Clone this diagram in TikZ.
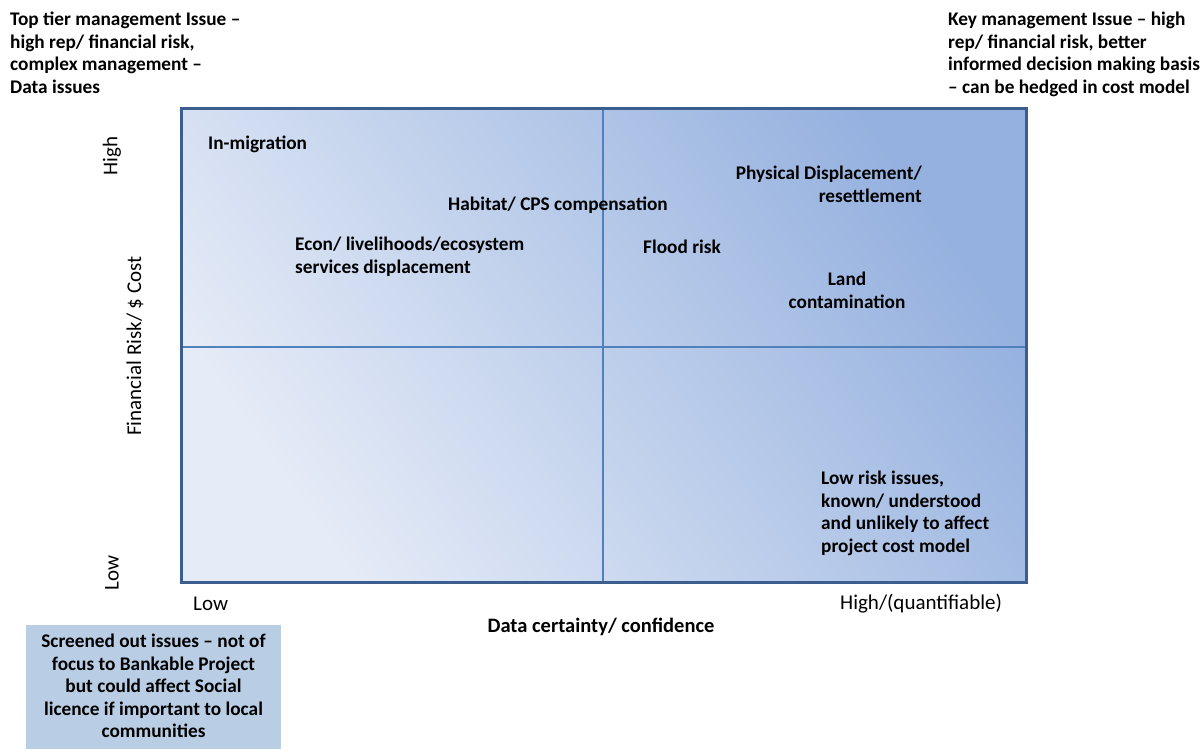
\documentclass[tikz,border=0pt]{standalone}
\usepackage{fontspec}
\setmainfont{Carlito}
\definecolor{frameblue}{HTML}{3B5E8E}
\definecolor{divblue}{HTML}{4F81BD}
\definecolor{lightfill}{HTML}{E6ECF7}
\definecolor{darkfill}{HTML}{95B1DF}
\definecolor{screenfill}{HTML}{B9CDE5}
\tikzset{
  lbl/.style={inner sep=0pt, font=\fontsize{19.3}{22.5}\selectfont\bfseries, text=black},
  axl/.style={inner sep=0pt, font=\fontsize{21}{25}\selectfont, text=black},
}
\begin{document}
\begin{tikzpicture}[x=1pt,y=-1pt]
\useasboundingbox (0,0) rectangle (1201,749);
% screened out box
\fill[screenfill] (26,625) rectangle (281,749);
\node[lbl, align=center, anchor=north] (screen) at (153.5,634) {Screened out issues -- not of\\focus to Bankable Project\\but could affect Social\\licence if important to local\\communities};
% matrix
\fill[shading=axis, bottom color=lightfill, top color=darkfill, shading angle=-55] (181,109) rectangle (1026,582);
\coordinate (vt) at (603,109);
\coordinate (vb) at (603,582);
\coordinate (hl) at (181,347);
\coordinate (hr) at (1026,347);
\draw[divblue, line width=2pt] (vt) -- (vb);
\draw[divblue, line width=2pt] (hl) -- (hr);
\draw[frameblue, line width=3pt] (181,109) rectangle (1026,582);
% corner notes
\node[lbl, align=left, anchor=north west] (tl) at (10,12) {Top tier management Issue --\\high rep/ financial risk,\\complex management --\\Data issues};
\node[lbl, align=left, anchor=north west] (tr) at (948,12) {Key management Issue -- high\\rep/ financial risk, better\\informed decision making basis\\-- can be hedged in cost model};
% items
\node[lbl, anchor=west] (mig) at (208,144) {In-migration};
\node[lbl, anchor=west] (hab) at (448,205) {Habitat/ CPS compensation};
\node[lbl, align=left, anchor=north west] (econ) at (295,237) {Econ/ livelihoods/ecosystem\\services displacement};
\node[lbl, anchor=west] (flood) at (643,247) {Flood risk};
\node[lbl, align=right, anchor=north east] (phys) at (922,166) {Physical Displacement/\\resettlement};
\node[lbl, align=center, anchor=north] (land) at (847,272) {Land\\contamination};
\node[lbl, align=left, anchor=north west] (lowrisk) at (821,471) {Low risk issues,\\known/ understood\\and unlikely to affect\\project cost model};
% axes
\node[axl, anchor=west] (xlow) at (193,604) {Low};
\node[axl, anchor=west] (xhigh) at (840,604) {High/(quantifiable)};
\node[lbl, font=\fontsize{20.5}{24}\selectfont\bfseries] (xtitle) at (601,627) {Data certainty/ confidence};
\node[axl, rotate=90] (yhigh) at (112,156) {High};
\node[axl, rotate=90] (ytitle) at (135,346) {Financial Risk/ \$ Cost};
\node[axl, rotate=90] (ylow) at (112,573) {Low};
\end{tikzpicture}
\end{document}
